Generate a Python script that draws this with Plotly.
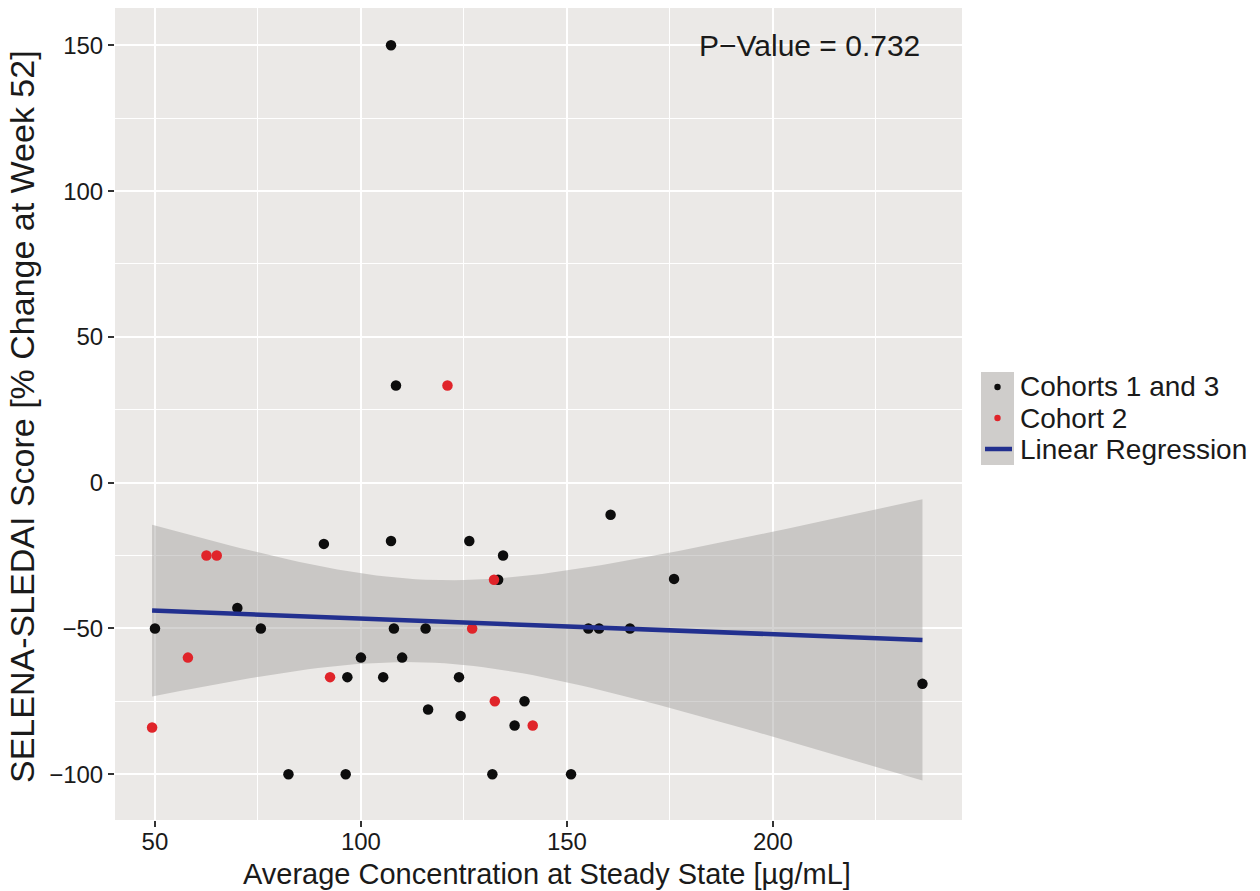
import numpy as np
import plotly.graph_objects as go

# Cohorts 1 and 3: average steady-state concentration (ug/mL) and % change in score
cohort13_conc = [107.3, 108.5, 50.0, 70.0, 75.7, 96.7, 105.4, 100.0, 91.0, 107.3,
                 108.0, 82.4, 96.3, 126.3, 134.5, 133.3, 160.6, 176.0, 115.7, 155.2,
                 157.8, 165.3, 110.0, 123.8, 139.7, 116.3, 124.2, 137.3, 131.9, 151.0,
                 236.3]
cohort13_change = [150.0, 33.3, -50.0, -43.0, -50.0, -66.7, -66.7, -60.0, -21.0, -20.0,
                   -50.0, -100.0, -100.0, -20.0, -25.0, -33.3, -11.0, -33.0, -50.0, -50.0,
                   -50.0, -50.0, -60.0, -66.7, -75.0, -77.8, -80.0, -83.3, -100.0, -100.0,
                   -69.0]

# Cohort 2
cohort2_conc = [62.5, 65.0, 58.0, 92.5, 49.3, 121.0, 132.3, 127.0, 132.5, 141.7]
cohort2_change = [-25.0, -25.0, -60.0, -66.7, -84.0, 33.3, -33.3, -50.0, -75.0, -83.3]

p_value_label = "P\u2212Value = 0.732"
legend_labels = ["Cohorts 1 and 3", "Cohort 2", "Linear Regression"]
x_title = "Average Concentration at Steady State [\u00b5g/mL]"
y_title = "SELENA-SLEDAI Score [% Change at Week 52]"

# ---- ordinary least squares fit with 95% confidence band ----
x_all = np.array(cohort13_conc + cohort2_conc)
y_all = np.array(cohort13_change + cohort2_change)
n = len(x_all)
slope, intercept = np.polyfit(x_all, y_all, 1)
resid = y_all - (intercept + slope * x_all)
sigma = np.sqrt(np.sum(resid ** 2) / (n - 2))
x_mean = x_all.mean()
sxx = np.sum((x_all - x_mean) ** 2)
t_crit = 2.0227  # t quantile 0.975, 39 df
grid = np.linspace(x_all.min(), x_all.max(), 80)
fit = intercept + slope * grid
se = sigma * np.sqrt(1.0 / n + (grid - x_mean) ** 2 / sxx)
upper = fit + t_crit * se
lower = fit - t_crit * se

FONT = "Liberation Sans, Arial, Helvetica, sans-serif"
TXT = "#1a1a1a"

fig = go.Figure()

# confidence ribbon
fig.add_trace(go.Scatter(
    x=np.concatenate([grid, grid[::-1]]),
    y=np.concatenate([upper, lower[::-1]]),
    fill="toself", fillcolor="rgba(160,158,156,0.45)",
    line=dict(width=0), mode="lines", hoverinfo="skip", showlegend=False))

fig.add_trace(go.Scatter(
    x=cohort13_conc, y=cohort13_change, mode="markers",
    marker=dict(color="#0d0d0d", size=10.5), showlegend=False))
fig.add_trace(go.Scatter(
    x=cohort2_conc, y=cohort2_change, mode="markers",
    marker=dict(color="#e0242a", size=10.5), showlegend=False))

fig.add_trace(go.Scatter(
    x=grid, y=fit, mode="lines",
    line=dict(color="#22308f", width=4.5), showlegend=False))

fig.add_annotation(x=209, y=150, xref="x", yref="y", text=p_value_label,
                   showarrow=False, font=dict(family=FONT, size=30, color=TXT),
                   xanchor="center", yanchor="middle")

# ---- axis titles ----
PL, PR, PT, PB = 115, 962, 8, 820
W, H = 1260, 891
pw, ph = PR - PL, PB - PT


def px_x(px):
    return (px - PL) / pw


def px_y(py):
    return (PB - py) / ph


fig.add_annotation(x=px_x(547), y=px_y(874), xref="paper", yref="paper",
                   text=x_title, showarrow=False,
                   font=dict(family=FONT, size=29, color=TXT),
                   xanchor="center", yanchor="middle")
fig.add_annotation(x=px_x(22), y=px_y(417), xref="paper", yref="paper",
                   text=y_title, showarrow=False, textangle=-90,
                   font=dict(family=FONT, size=34, color=TXT),
                   xanchor="center", yanchor="middle")

# ---- legend ----
key_x0, key_x1 = 981, 1014
row_y = [387, 418, 449]
fig.add_shape(type="rect", xref="paper", yref="paper",
              x0=px_x(key_x0), x1=px_x(key_x1), y0=px_y(372), y1=px_y(465),
              fillcolor="#cfcdcb", line=dict(width=0))
kx = (key_x0 + key_x1) / 2
for cy, col in zip(row_y[:2], ["#0d0d0d", "#e0242a"]):
    fig.add_shape(type="circle", xref="paper", yref="paper",
                  x0=px_x(kx - 3.2), x1=px_x(kx + 3.2),
                  y0=px_y(cy + 3.2), y1=px_y(cy - 3.2),
                  fillcolor=col, line=dict(width=0))
fig.add_shape(type="line", xref="paper", yref="paper",
              x0=px_x(985), x1=px_x(1012), y0=px_y(row_y[2]), y1=px_y(row_y[2]),
              line=dict(color="#22308f", width=4.5))
for cy, lab in zip(row_y, legend_labels):
    fig.add_annotation(x=px_x(1018), y=px_y(cy), xref="paper", yref="paper",
                       text=lab, showarrow=False,
                       font=dict(family=FONT, size=28, color=TXT),
                       xanchor="left", yanchor="middle")

axis_common = dict(
    showgrid=True, gridcolor="white", gridwidth=2,
    zeroline=False, showline=False,
    ticks="outside", ticklen=6, tickwidth=1.5, tickcolor="#333333",
    tickfont=dict(family=FONT, size=24, color=TXT),
)

fig.update_xaxes(range=[40.3, 245.9], tickvals=[50, 100, 150, 200],
                 ticklabelstandoff=-6,
                 minor=dict(tickvals=[75, 125, 175, 225], showgrid=True,
                            gridcolor="white", gridwidth=1, ticks=""),
                 **axis_common)
fig.update_yaxes(range=[-115.7, 162.8], tickvals=[-100, -50, 0, 50, 100, 150],
                 minor=dict(tickvals=[-75, -25, 25, 75, 125], showgrid=True,
                            gridcolor="white", gridwidth=1, ticks=""),
                 **axis_common)

fig.update_layout(
    width=W, height=H, autosize=False,
    margin=dict(l=PL, r=W - PR, t=PT, b=H - PB),
    plot_bgcolor="#ebe9e7", paper_bgcolor="white",
    font=dict(family=FONT, color=TXT),
    showlegend=False,
)

fig.write_html("out.html")
